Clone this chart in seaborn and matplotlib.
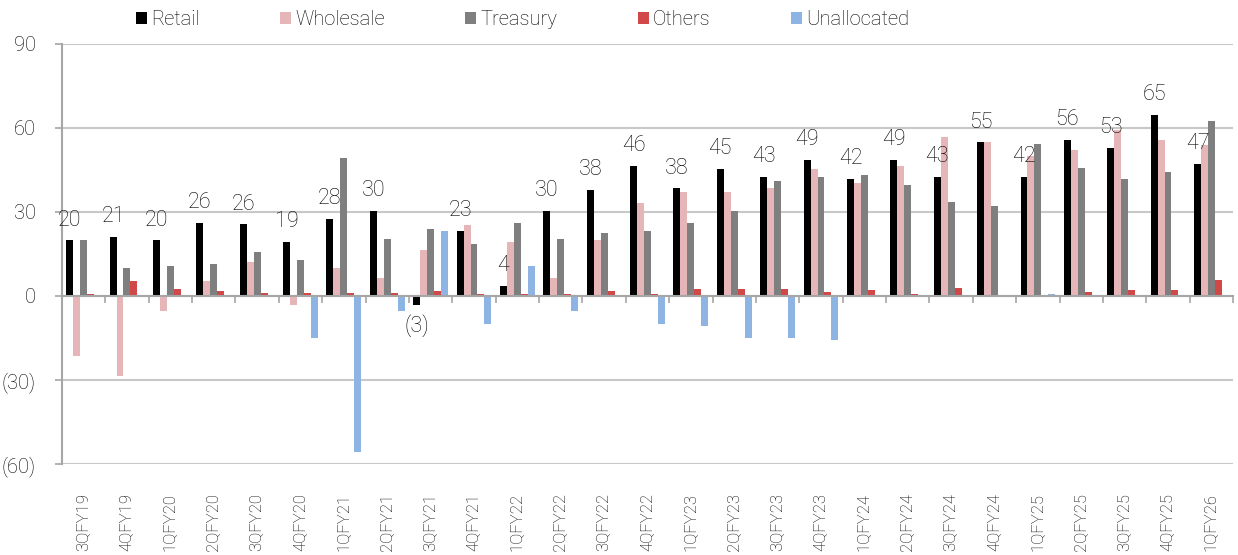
import matplotlib
matplotlib.use("Agg")
import matplotlib.pyplot as plt
import numpy as np
import pandas as pd
import seaborn as sns

# Quarterly segment figures
quarters = ['3QFY19', '4QFY19', '1QFY20', '2QFY20', '3QFY20', '4QFY20', '1QFY21',
            '2QFY21', '3QFY21', '4QFY21', '1QFY22', '2QFY22', '3QFY22', '4QFY22',
            '1QFY23', '2QFY23', '3QFY23', '4QFY23', '1QFY24', '2QFY24', '3QFY24',
            '4QFY24', '1QFY25', '2QFY25', '3QFY25', '4QFY25', '1QFY26']

retail = [19.8, 21.2, 19.8, 26.1, 25.6, 19.2, 27.6, 30.3, -3.2, 23.3, 3.6, 30.3, 37.8, 46.4,
          38.4, 45.3, 42.6, 48.6, 41.8, 48.6, 42.6, 54.8, 42.4, 55.6, 52.8, 64.6, 47.2]
wholesale = [-21.6, -28.6, -5.4, 5.2, 12.1, -3.2, 10.1, 6.5, 16.4, 25.4, 19.1, 6.5, 19.8, 33.1,
             37.1, 37.1, 38.5, 45.2, 40.2, 46.5, 56.8, 54.8, 50.0, 52.0, 59.1, 55.5, 53.8]
treasury = [19.9, 10.0, 10.7, 11.4, 15.6, 12.8, 49.2, 20.5, 24.0, 18.5, 26.2, 20.5, 22.6, 23.3,
            26.2, 30.4, 41.2, 42.4, 43.0, 39.5, 33.4, 32.0, 54.2, 45.8, 41.7, 44.4, 62.4]
others = [0.8, 5.2, 2.4, 1.7, 1.0, 1.0, 1.0, 1.0, 1.6, 0.8, 0.8, 0.8, 1.6, 0.8,
          2.3, 2.3, 2.3, 1.5, 2.2, 0.8, 3.0, 0.0, 0.0, 1.5, 2.2, 2.2, 5.8]
unallocated = [0.0, 0.0, 0.0, 0.0, 0.0, -15.1, -55.8, -5.4, 23.3, -10.2, 10.7, -5.4, 0.0, -10.2,
               -10.9, -15.1, -15.1, -15.6, 0.0, 0.0, 0.0, 0.0, 0.8, 0.0, 0.0, 0.0, 0.0]

segments = ['Retail', 'Wholesale', 'Treasury', 'Others', 'Unallocated']
colors = ['#000000', '#E6B5B8', '#7F7F7F', '#D04848', '#8DB4E2']
y_ticks = [-60, -30, 0, 30, 60, 90]

series = dict(zip(segments, [retail, wholesale, treasury, others, unallocated]))
df = pd.DataFrame([
    {'quarter': q, 'segment': s, 'value': v}
    for s in segments for q, v in zip(quarters, series[s])
])

sns.set_style('white')
plt.rcParams['font.family'] = ['Roboto', 'DejaVu Sans']
plt.rcParams['font.weight'] = 'light'
plt.rcParams['font.size'] = 14

text_color = '#000000'
grid_color = '#C8C8C8'
axis_color = '#A6A6A6'

fig = plt.figure(figsize=(12.38, 5.55), dpi=100)
ax = fig.add_axes([0.050, 0.164, 0.946, 0.757])

sns.barplot(data=df, x='quarter', y='value', hue='segment', order=quarters,
            hue_order=segments, palette=colors, width=0.8, saturation=1,
            linewidth=0, ax=ax)

ax.set_ylim(-60, 90)
ax.set_xlim(-0.5, len(quarters) - 0.5)
ax.set_yticks(y_ticks)
ax.set_yticklabels([f'({abs(t)})' if t < 0 else f'{t}' for t in y_ticks],
                   color=text_color, fontsize=14.5)
ax.set_xlabel('')
ax.set_ylabel('')

# Horizontal gridlines
ax.grid(axis='y', color=grid_color, linewidth=1.5)
ax.grid(axis='x', visible=False)
ax.set_axisbelow(True)

# Spines: left axis and a category axis crossing at zero
for side in ['top', 'right']:
    ax.spines[side].set_visible(False)
ax.spines['left'].set_color(axis_color)
ax.spines['left'].set_linewidth(1.5)
ax.spines['bottom'].set_position(('data', 0))
ax.spines['bottom'].set_color(axis_color)
ax.spines['bottom'].set_linewidth(1.5)
ax.tick_params(axis='y', left=True, length=5, width=1.2, color=axis_color, pad=14)
ax.set_xticks(np.arange(-0.5, len(quarters), 1.0), minor=True)
ax.tick_params(axis='x', which='minor', bottom=True, length=5, width=1.2,
               color=axis_color, direction='out')
ax.tick_params(axis='x', which='major', bottom=False, labelbottom=False)

# Category labels along the bottom edge
sec = ax.secondary_xaxis(0)
sec.set_xticks(range(len(quarters)))
sec.set_xticklabels(quarters, rotation=90, color=text_color, fontsize=12)
sec.tick_params(length=0, pad=21)
sec.spines['bottom'].set_visible(False)

# Retail value labels
retail_bars = ax.containers[0]
ax.bar_label(retail_bars,
             labels=[f'({abs(v):.0f})' if v < 0 else f'{v:.0f}' for v in retail],
             padding=7, fontsize=15.5, color=text_color)

handles, labels = ax.get_legend_handles_labels()
ax.get_legend().remove()
fig.legend(handles, labels, loc='center', bbox_to_anchor=(0.422, 0.964), ncol=5,
           frameon=False, columnspacing=4.0, handletextpad=0.2,
           handlelength=0.55, handleheight=0.55, fontsize=14.5,
           labelcolor=text_color)

fig.savefig('out.png', dpi=100)
